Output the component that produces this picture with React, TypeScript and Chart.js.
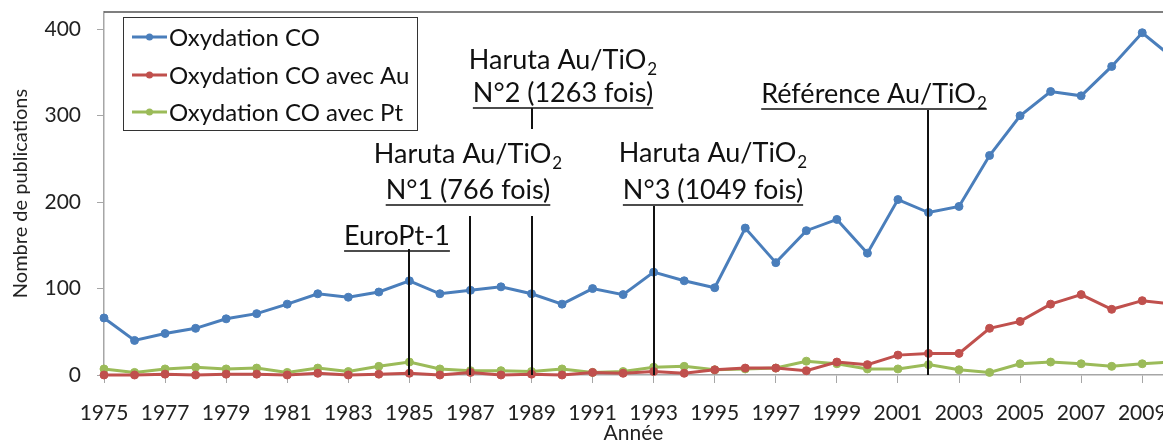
import React, { useEffect, useRef } from "react";
import { Chart, registerables } from "chart.js";

Chart.register(...registerables);

// ---- Data ----
const years = [
  1975, 1976, 1977, 1978, 1979, 1980, 1981, 1982, 1983, 1984,
  1985, 1986, 1987, 1988, 1989, 1990, 1991, 1992, 1993, 1994,
  1995, 1996, 1997, 1998, 1999, 2000, 2001, 2002, 2003, 2004,
  2005, 2006, 2007, 2008, 2009, 2010,
];
const oxydationCO = [
  66, 40, 48, 54, 65, 71, 82, 94, 90, 96,
  109, 94, 98, 102, 94, 82, 100, 93, 119, 109,
  101, 170, 130, 167, 180, 141, 203, 188, 195, 254,
  300, 328, 323, 357, 396, 367,
];
const oxydationCOAu = [
  0, 0, 1, 0, 1, 1, 0, 2, 0, 1,
  2, 0, 3, 0, 1, 0, 3, 2, 4, 2,
  6, 8, 8, 5, 15, 12, 23, 25, 25, 54,
  62, 82, 93, 76, 86, 82,
];
const oxydationCOPt = [
  7, 3, 7, 9, 7, 8, 3, 8, 4, 10,
  15, 7, 5, 5, 4, 7, 3, 4, 9, 10,
  6, 7, 8, 16, 13, 7, 7, 12, 6, 3,
  13, 15, 13, 10, 13, 15,
];
const seriesNames = ["Oxydation CO", "Oxydation CO avec Au", "Oxydation CO avec Pt"];
const xTickYears = [
  1975, 1977, 1979, 1981, 1983, 1985, 1987, 1989, 1991, 1993,
  1995, 1997, 1999, 2001, 2003, 2005, 2007, 2009,
];
const yTickValues = [0, 100, 200, 300, 400];
const yAxisTitle = "Nombre de publications";
const xAxisTitle = "Année";

// Event markers (year + text)
const markerYears = [1985, 1987, 1989, 1993, 2002];
const noteTexts = [
  { main: "EuroPt-1", sub: "", second: "" },
  { main: "Haruta Au/TiO", sub: "2", second: "N°1 (766 fois)" },
  { main: "Haruta Au/TiO", sub: "2", second: "N°2 (1263 fois)" },
  { main: "Haruta Au/TiO", sub: "2", second: "N°3 (1049 fois)" },
  { main: "Référence Au/TiO", sub: "2", second: "" },
];

// ---- Layout / style (not data) ----
const FONT = "Lato, 'Open Sans', sans-serif";
const COLORS = ["#4A7EBB", "#C0504D", "#9BBB59"];
const W = 1163;
const H = 443;

const noteLayout = [
  { cx: 397, y1: 245, y2: 0, underlineLine: 1 },
  { cx: 468, y1: 163, y2: 199, underlineLine: 2 },
  { cx: 563, y1: 69, y2: 102, underlineLine: 2 },
  { cx: 713, y1: 162, y2: 199, underlineLine: 2 },
  { cx: 874, y1: 103, y2: 0, underlineLine: 1 },
];
const markerSegments = [
  [[249, null]],
  [[216, null]],
  [[108, 129], [216, null]],
  [[206, null]],
  [[110, null]],
];

const NOTE_SIZE = 27;

function drawMainWithSub(ctx: CanvasRenderingContext2D, main: string, sub: string, cx: number, y: number) {
  ctx.font = `${NOTE_SIZE}px ${FONT}`;
  const w1 = ctx.measureText(main).width;
  ctx.font = `${Math.round(NOTE_SIZE * 0.62)}px ${FONT}`;
  const w2 = sub ? ctx.measureText(sub).width + 1 : 0;
  const left = cx - (w1 + w2) / 2;
  ctx.textAlign = "left";
  ctx.textBaseline = "alphabetic";
  ctx.font = `${NOTE_SIZE}px ${FONT}`;
  ctx.fillText(main, left, y);
  if (sub) {
    ctx.font = `${Math.round(NOTE_SIZE * 0.62)}px ${FONT}`;
    ctx.fillText(sub, left + w1 + 1, y + 6);
  }
  return { left, right: left + w1 + w2 };
}

const notesPlugin = {
  id: "notes",
  afterDatasetsDraw(chart: any) {
    const ctx: CanvasRenderingContext2D = chart.ctx;
    const xs = chart.scales.x;
    const ys = chart.scales.y;
    const area = chart.chartArea;
    const y0 = ys.getPixelForValue(0);
    ctx.save();
    ctx.strokeStyle = "#555";
    ctx.lineWidth = 1.5;
    ctx.beginPath();
    ctx.moveTo(area.left, area.top);
    ctx.lineTo(area.right, area.top);
    ctx.stroke();

    ctx.strokeStyle = "#111";
    ctx.lineWidth = 2;
    markerYears.forEach((yr, i) => {
      const px = Math.round(xs.getPixelForValue(yr));
      markerSegments[i].forEach(([top, bottom]) => {
        ctx.beginPath();
        ctx.moveTo(px, top as number);
        ctx.lineTo(px, bottom == null ? y0 : (bottom as number));
        ctx.stroke();
      });
    });

    ctx.fillStyle = "#111";
    noteTexts.forEach((t, i) => {
      const L = noteLayout[i];
      const r1 = drawMainWithSub(ctx, t.main, t.sub, L.cx, L.y1);
      let ul: { left: number; right: number; y: number } | null = null;
      if (L.underlineLine === 1) ul = { ...r1, y: L.y1 + 6 };
      if (t.second) {
        ctx.font = `${NOTE_SIZE}px ${FONT}`;
        ctx.textAlign = "left";
        const w = ctx.measureText(t.second).width;
        const left = L.cx - w / 2;
        ctx.fillText(t.second, left, L.y2);
        if (L.underlineLine === 2) ul = { left, right: left + w, y: L.y2 + 6 };
      }
      if (ul) {
        ctx.strokeStyle = "#111";
        ctx.lineWidth = 1.5;
        ctx.beginPath();
        ctx.moveTo(ul.left, ul.y);
        ctx.lineTo(ul.right, ul.y);
        ctx.stroke();
      }
    });

    const bx = 123.5, by = 17.5, bw = 294, bh = 113;
    ctx.fillStyle = "#fff";
    ctx.fillRect(bx, by, bw, bh);
    ctx.strokeStyle = "#333";
    ctx.lineWidth = 1;
    ctx.strokeRect(bx, by, bw, bh);
    const rows = [37, 75, 112];
    chart.data.datasets.forEach((ds: any, i: number) => {
      const ry = rows[i];
      ctx.strokeStyle = ds.borderColor;
      ctx.lineWidth = 3;
      ctx.beginPath();
      ctx.moveTo(132, ry);
      ctx.lineTo(167, ry);
      ctx.stroke();
      ctx.fillStyle = ds.borderColor;
      ctx.beginPath();
      ctx.arc(149.5, ry, 3.5, 0, Math.PI * 2);
      ctx.fill();
      ctx.fillStyle = "#111";
      ctx.font = `24px ${FONT}`;
      ctx.textAlign = "left";
      ctx.textBaseline = "middle";
      ctx.fillText(ds.label, 169, ry + 1);
    });
    ctx.restore();
  },
};

export default function App() {
  const ref = useRef<HTMLCanvasElement | null>(null);
  useEffect(() => {
    if (!ref.current) return;
    const mk = (vals: number[]) => years.map((y, i) => ({ x: y, y: vals[i] }));
    const seriesValues = [oxydationCO, oxydationCOAu, oxydationCOPt];
    const chart = new Chart(ref.current, {
      type: "line",
      data: {
        datasets: seriesValues.map((vals, i) => ({
          label: seriesNames[i],
          data: mk(vals),
          borderColor: COLORS[i],
          backgroundColor: COLORS[i],
          pointBackgroundColor: COLORS[i],
          pointBorderColor: COLORS[i],
          borderWidth: 3,
          pointRadius: 4,
          pointBorderWidth: 1,
          tension: 0,
          clip: false as any,
        })),
      },
      options: {
        animation: false,
        responsive: false,
        layout: { padding: { top: 12, right: 0, left: 0, bottom: 0 }, autoPadding: false } as any,
        plugins: {
          legend: { display: false },
          tooltip: { enabled: false },
        },
        scales: {
          x: {
            type: "linear",
            min: 1975,
            max: 2009.68,
            afterBuildTicks: (s: any) => {
              s.ticks = xTickYears.map((v) => ({ value: v }));
            },
            afterFit: (s: any) => {
              s.height = H - 375;
              s.paddingLeft = 0;
              s.paddingRight = 0;
            },
            grid: { drawOnChartArea: false, drawTicks: true, tickLength: 8, color: "#a6a6a6" },
            border: { color: "#a6a6a6", width: 1.5 },
            ticks: {
              autoSkip: false,
              maxRotation: 0,
              padding: 18,
              color: "#222",
              font: { family: FONT, size: 21 },
              callback: (v: any) => String(v),
            },
            title: {
              display: true,
              text: xAxisTitle,
              color: "#222",
              font: { family: FONT, size: 21 },
              padding: { top: 0, bottom: -3 },
            },
          },
          y: {
            type: "linear",
            min: 0,
            max: 420,
            afterBuildTicks: (s: any) => {
              s.ticks = yTickValues.map((v) => ({ value: v }));
            },
            afterFit: (s: any) => {
              s.width = 104;
              s.paddingTop = 0;
              s.paddingBottom = 0;
            },
            grid: { drawOnChartArea: false, drawTicks: true, tickLength: 7, color: "#a6a6a6" },
            border: { color: "#a6a6a6", width: 1.5 },
            ticks: {
              padding: 16,
              color: "#222",
              font: { family: FONT, size: 21 },
              callback: (v: any) => String(v),
            },
            title: {
              display: true,
              text: yAxisTitle,
              color: "#222",
              font: { family: FONT, size: 20 },
              padding: { top: 9, bottom: 0 },
            },
          },
        },
      },
      plugins: [notesPlugin],
    });
    return () => chart.destroy();
  }, []);
  return (
    <div style={{ position: "absolute", left: 0, top: 0, width: W, height: H, background: "#fff" }}>
      <canvas ref={ref} width={W} height={H} style={{ display: "block" }} />
    </div>
  );
}
